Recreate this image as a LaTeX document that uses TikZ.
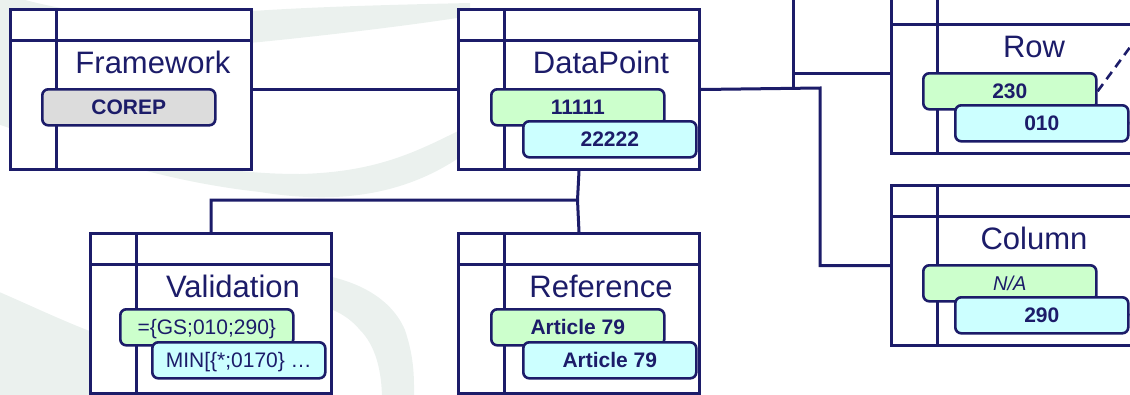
\documentclass[tikz,border=0pt]{standalone}
\usepackage{fontspec}
\setmainfont{Liberation Sans}
\definecolor{navy}{RGB}{28,28,105}
\definecolor{pgreen}{RGB}{204,255,204}
\definecolor{pcyan}{RGB}{204,255,255}
\definecolor{pgray}{RGB}{220,220,220}
\definecolor{swoosh}{RGB}{235,241,238}
\tikzset{
  classrect/.style={draw=navy, fill=white, line width=3pt, minimum width=241pt, minimum height=160pt, inner sep=0pt, anchor=north west},
  cline/.style={draw=navy, line width=3pt},
  ctitle/.style={text=navy, font=\fontsize{31}{36}\selectfont, anchor=base, inner sep=0pt},
  pill/.style={draw=navy, line width=2.6pt, rounded corners=6pt, minimum width=173pt, minimum height=36pt, inner sep=0pt, text height=15pt, text depth=0pt, text=navy, anchor=north west, font=\fontsize{21}{25}\selectfont\bfseries},
  pillg/.style={pill, fill=pgreen},
  pillc/.style={pill, fill=pcyan},
  pillgr/.style={pill, fill=pgray},
  conn/.style={draw=navy, line width=3pt},
  dashconn/.style={draw=navy, line width=2.6pt, dash pattern=on 9pt off 6pt},
}
\newcommand\classbox[4]{%
  \node[classrect] (#1) at (#2,#3) {};
  \draw[cline] ([xshift=47pt]#1.north west) -- ([xshift=47pt]#1.south west);
  \draw[cline] ([yshift=-32pt]#1.north west) -- ([yshift=-32pt]#1.north east);
  \node[ctitle] (#1t) at ([xshift=144pt,yshift=-65pt]#1.north west) {#4};
}
\begin{document}
\begin{tikzpicture}[x=1pt,y=-1pt]
\useasboundingbox (0,0) rectangle (1130,394);
\clip (0,0) rectangle (1130,394);
% background watermark
\fill[swoosh] (470,3) .. controls (380,5) and (260,8) .. (200,16) .. controls (100,22) and (0,0) .. (-20,-20) -- (-20,118) .. controls (60,145) and (150,180) .. (260,192) .. controls (340,205) and (410,195) .. (470,150) -- (470,125) .. controls (420,150) and (380,172) .. (300,174) .. controls (200,174) and (110,150) .. (110,105) .. controls (110,60) and (200,47) .. (260,42) .. controls (340,34) and (420,24) .. (470,16) -- cycle;
\fill[swoosh] (-10,288) .. controls (30,305) and (60,320) .. (100,335) -- (100,400) -- (-10,400) -- cycle;
\fill[swoosh] (300,272) .. controls (350,276) and (390,295) .. (405,330) .. controls (415,360) and (414,380) .. (414,400) -- (382,400) .. controls (382,370) and (375,345) .. (360,330) .. controls (345,312) and (325,305) .. (300,302) -- cycle;
% junction coordinates
\coordinate (j1) at (577.5,200);
\coordinate (j2) at (820,88);
\coordinate (j3) at (793,88);
\coordinate (jtop) at (793,-10);
\coordinate (dashend) at (1150,20);
\coordinate (rowout) at (1140,122);
\coordinate (colout) at (1140,313);
% classes
\classbox{fw}{9}{8}{Framework}
\classbox{dp}{457}{8}{DataPoint}
\classbox{row}{890}{-8}{Row}
\classbox{col}{890}{184}{Column}
\classbox{val}{89}{232}{Validation}
\classbox{ref}{457}{232}{Reference}
% connectors
\draw[conn] (fw.east) -- (dp.west);
\draw[conn] (dp.south) -- (j1) -| (val.north);
\draw[conn] (j1) -- (ref.north);
\draw[conn] (dp.east) -- (j2) |- (col.west);
\draw[conn] (j3) -- (jtop);
\draw[conn] (j3 |- row.west) -- (row.west);
% values
\node[pillgr] (fwg) at (41,88) {COREP};
\node[pillg] (dpg) at (490,88) {11111};
\node[pillc] (dpc) at (522,120) {22222};
\node[pillg] (rowg) at (922,72) {230};
\node[pillc] (rowc) at (954,104) {010};
\node[pillg, font=\fontsize{20}{24}\selectfont\itshape] (colg) at (922,264) {N/A};
\node[pillc] (colc) at (954,296) {290};
\node[pillg, font=\fontsize{21}{25}\selectfont] (valg) at (119,308) {=\{GS;010;290\}};
\node[pillc, font=\fontsize{21}{25}\selectfont] (valc) at (151,341) {MIN[\{*;0170\} …};
\node[pillg] (refg) at (490,308) {Article 79};
\node[pillc] (refc) at (522,341) {Article 79};
% off-picture links
\draw[dashconn] (rowg.east) -- (dashend);
\draw[conn] (rowc.east) -- (rowout);
\draw[conn] (colc.east) -- (colout);
\end{tikzpicture}
\end{document}
